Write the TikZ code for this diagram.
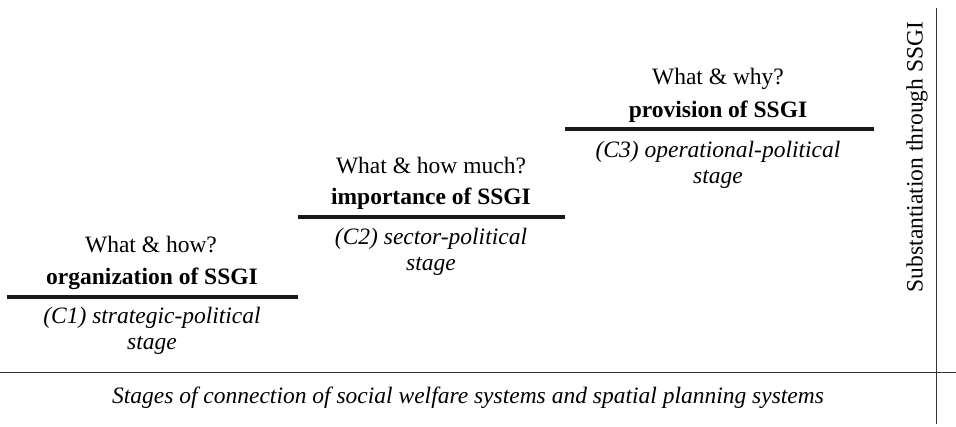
\documentclass[tikz,border=0pt]{standalone}
\usepackage{fontspec}
\setmainfont{Liberation Serif}
\usetikzlibrary{positioning}
\tikzset{
  stagebar/.style={line width=4.5pt,black!90},
  thinline/.style={line width=0.9pt,black!80},
  question/.style={font=\fontsize{23.5}{28}\selectfont,inner sep=0pt},
  stagename/.style={font=\fontsize{23.5}{28}\selectfont\bfseries,inner sep=0pt},
  stagetype/.style={font=\fontsize{23.5}{26.5}\selectfont\itshape,align=center,inner sep=0pt}
}
\begin{document}
\begin{tikzpicture}[x=1pt,y=-1pt]
    \useasboundingbox (0,0) rectangle (956,426);
    % Axes
    \draw[thinline] (0,372) to (956,372);
    \draw[thinline] (936,8) to (936,424);
    \node[stagetype] (xlabel) at (468,398) {Stages of connection of social welfare systems and spatial planning systems};
    \node[question,rotate=90] (ylabel) at (917,157) {Substantiation through SSGI};
    % Stage C1
    \draw[stagebar] (7,297) to (298,297);
    \node[question] (q1) at (151,245) {What \& how?};
    \node[stagename] (n1) at (152,279) {organization of SSGI};
    \node[stagetype] (t1) at (152,331) {(C1) strategic-political\\stage};
    % Stage C2
    \draw[stagebar] (298,217) to (565,217);
    \node[question] (q2) at (431,166) {What \& how much?};
    \node[stagename] (n2) at (431,199) {importance of SSGI};
    \node[stagetype] (t2) at (431,252) {(C2) sector-political\\stage};
    % Stage C3
    \draw[stagebar] (565,129) to (874,129);
    \node[question] (q3) at (718,79) {What \& why?};
    \node[stagename] (n3) at (718,112) {provision of SSGI};
    \node[stagetype] (t3) at (718,165) {(C3) operational-political\\stage};
\end{tikzpicture}
\end{document}
